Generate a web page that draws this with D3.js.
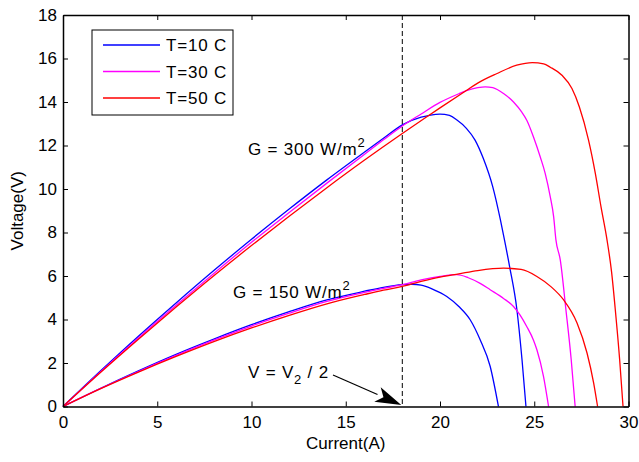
<!DOCTYPE html>
<html><head><meta charset="utf-8">
<script src="https://cdn.jsdelivr.net/npm/d3@7"></script>
<style>body{margin:0;background:#fff}svg{display:block}text{font-family:"Liberation Sans",Arial,Helvetica,sans-serif}</style>
</head><body>
<svg id="c" width="639" height="462"></svg>
<script>
// ---- data ----
const xTicks = [0,5,10,15,20,25,30];
const yTicks = [0,2,4,6,8,10,12,14,16,18];
const legendLabels = ["T=10 C","T=30 C","T=50 C"];
const seriesColors = ["#0000ff","#ff00ff","#ff0000"];

// G = 300 W/m2
const i300_10 = [0,2,4,6,8,10,12,14,16,17,18,19,19.5,20,20.5,20.9,21.4,21.86,22.3,22.8,23.2,23.42,23.7,24.08,24.35,24.56];
const v300_10 = [0,1.64,3.23,4.76,6.25,7.69,9.08,10.42,11.7,12.33,12.95,13.3,13.4,13.44,13.38,13.17,12.79,12.25,11.4,10.1,8.6,7.66,6.4,4.45,2.16,0];
const i300_30 = [0,2,4,6,8,10,12,14,16,17,18,19,20,21,21.4,22,22.4,22.8,23.37,23.9,24.34,24.61,24.96,25.32,25.58,25.85,26.03,26.15,26.38,26.68,26.96,27.17];
const v300_30 = [0,1.6,3.15,4.65,6.12,7.55,8.92,10.27,11.6,12.26,12.9,13.45,13.98,14.38,14.52,14.66,14.7,14.66,14.39,14.0,13.53,13.15,12.39,11.47,10.72,9.64,8.72,7.66,6.74,4.45,2.16,0];
const i300_50 = [0,2,4,6,8,10,12,14,16,18,19.3,20,21.4,22,23,24.07,24.9,25.5,25.85,26.47,27.0,27.39,27.88,28.24,28.54,28.86,29.1,29.3,29.53,29.71];
const v300_50 = [0,1.57,3.09,4.57,6.01,7.4,8.75,10.06,11.33,12.55,13.32,13.73,14.53,14.87,15.3,15.69,15.81,15.75,15.6,15.23,14.62,13.78,12.25,10.72,9.19,7.66,6.2,4.45,2.16,0];

// G = 150 W/m2
const i150_10 = [0,2,4,6,8,10,12,14,16,17,18,18.5,19,19.6,20.36,21.0,21.6,22.13,22.66,23.1];
const v150_10 = [0,0.84,1.64,2.4,3.1,3.76,4.36,4.9,5.3,5.48,5.6,5.62,5.58,5.4,5.06,4.6,3.99,3.07,1.85,0];
const i150_30 = [0,2,4,6,8,10,12,14,16,17,18,19,20,20.9,21.5,22.13,22.66,23.37,23.9,24.25,24.6,24.96,25.14,25.49,25.76];
const v150_30 = [0,0.83,1.61,2.35,3.05,3.7,4.29,4.83,5.25,5.43,5.6,5.82,5.98,6.06,5.92,5.66,5.37,4.97,4.6,4.2,3.68,3.05,2.61,1.39,0];
const i150_50 = [0,2,4,6,8,10,12,14,16,17,18,19,20,21,22,23.37,24.3,25.14,25.9,26.55,27.27,27.8,28.15,28.36];
const v150_50 = [0,0.82,1.58,2.3,2.98,3.61,4.19,4.72,5.15,5.35,5.52,5.75,5.95,6.1,6.25,6.36,6.3,5.98,5.5,4.91,3.84,2.46,1.09,0];

const dashedCurrent = 18;

// ---- drawing ----
const svg = d3.select("#c");
const x = d3.scaleLinear().domain([0,30]).range([63,628.5]);
const y = d3.scaleLinear().domain([0,18]).range([406.5,15]);
const fs = "17px";

const series = [
  [i300_10,v300_10,0],[i300_30,v300_30,1],[i300_50,v300_50,2],
  [i150_10,v150_10,0],[i150_30,v150_30,1],[i150_50,v150_50,2]
];
const line = d3.line().x(d=>x(d[0])).y(d=>y(d[1])).curve(d3.curveMonotoneX);
series.forEach(([is,vs,c])=>{
  svg.append("path").datum(is.map((v,k)=>[v,vs[k]]))
    .attr("d",line).attr("fill","none").attr("stroke",seriesColors[c]).attr("stroke-width",1.3);
});

// dashed vertical
svg.append("line").attr("x1",x(dashedCurrent)).attr("x2",x(dashedCurrent))
  .attr("y1",y(18)).attr("y2",y(0)).attr("stroke","#000").attr("stroke-width",1)
  .attr("stroke-dasharray","5,3");

// axes
function styleAxis(g){
  g.selectAll("path").attr("stroke","#000").attr("stroke-width",1.5);
  g.selectAll("line").attr("stroke","#000").attr("stroke-width",1);
  g.selectAll("text").attr("font-size",fs).attr("fill","#000").style("font-family",'"Liberation Sans",Arial,sans-serif');
}
svg.append("g").attr("transform",`translate(0,${y(0)})`)
  .call(d3.axisBottom(x).tickValues(xTicks).tickFormat(d3.format("d")).tickSizeInner(-5).tickSizeOuter(0).tickPadding(9)).call(styleAxis);
svg.append("g").attr("transform",`translate(0,${y(18)})`)
  .call(d3.axisTop(x).tickValues(xTicks).tickFormat("").tickSizeInner(-5).tickSizeOuter(0)).call(styleAxis);
svg.append("g").attr("transform",`translate(${x(0)},0)`)
  .call(d3.axisLeft(y).tickValues(yTicks).tickFormat(d3.format("d")).tickSizeInner(-5).tickSizeOuter(0).tickPadding(6)).call(styleAxis);
svg.append("g").attr("transform",`translate(${x(30)},0)`)
  .call(d3.axisRight(y).tickValues(yTicks).tickFormat("").tickSizeInner(-5).tickSizeOuter(0)).call(styleAxis);

// axis labels
svg.append("text").attr("x",(x(0)+x(30))/2).attr("y",449).attr("text-anchor","middle").attr("font-size",fs).text("Current(A)");
svg.append("text").attr("transform",`translate(23,${(y(0)+y(18))/2}) rotate(-90)`).attr("text-anchor","middle").attr("font-size",fs).text("Voltage(V)");

// legend
const lg = svg.append("g");
lg.append("rect").attr("x",92).attr("y",30).attr("width",141).attr("height",85).attr("fill","#fff").attr("stroke","#000").attr("stroke-width",1);
legendLabels.forEach((t,k)=>{
  const yy = 45 + k*26.5;
  lg.append("line").attr("x1",103).attr("x2",160).attr("y1",yy).attr("y2",yy).attr("stroke",seriesColors[k]).attr("stroke-width",1.3);
  lg.append("text").attr("x",166).attr("y",yy+6).attr("font-size",fs).attr("letter-spacing","0.8px").text(t);
});

// annotations
function gLabel(tx,ty,val){
  const t = svg.append("text").attr("x",tx).attr("y",ty).attr("font-size",fs).attr("letter-spacing","0.8px");
  t.append("tspan").text(`G = ${val} W/m`);
  t.append("tspan").attr("dy",-8).attr("font-size","13px").text("2");
}
gLabel(248,155,300);
gLabel(233,298,150);

const vt = svg.append("text").attr("x",248).attr("y",378).attr("font-size",fs).attr("letter-spacing","0.8px");
vt.append("tspan").text("V = V");
vt.append("tspan").attr("dy",6).attr("font-size","13px").text("2");
vt.append("tspan").attr("dy",-6).text(" / 2");

// arrow
const tip = [x(dashedCurrent)-1, y(0)-1.5];
const start = [333,375];
const ang = Math.atan2(tip[1]-start[1], tip[0]-start[0]);
const hl = 26, hw = 8;
const bx = tip[0]-hl*Math.cos(ang), by = tip[1]-hl*Math.sin(ang);
svg.append("line").attr("x1",start[0]).attr("y1",start[1]).attr("x2",bx).attr("y2",by).attr("stroke","#000").attr("stroke-width",1.2);
const px = -Math.sin(ang), py = Math.cos(ang);
const mx = tip[0]-hl*0.75*Math.cos(ang), my = tip[1]-hl*0.75*Math.sin(ang);
svg.append("path").attr("d",`M${tip[0]},${tip[1]} L${bx+hw*px},${by+hw*py} L${mx},${my} L${bx-hw*px},${by-hw*py} Z`).attr("fill","#000");
</script>
</body></html>
